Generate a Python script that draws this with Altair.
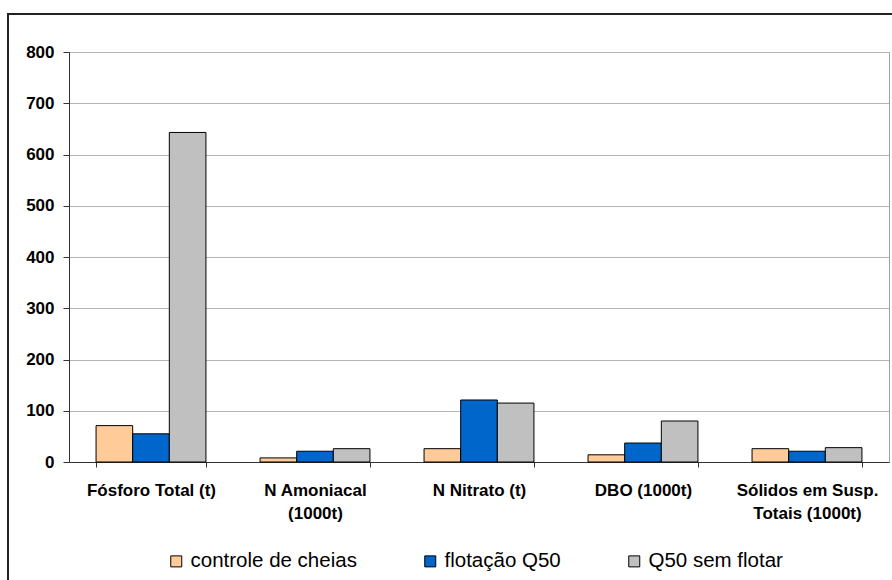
import altair as alt
import pandas as pd

# Categories (line breaks mark the wrapped axis labels)
categories = [
    "Fósforo Total (t)",
    "N Amoniacal\n(1000t)",
    "N Nitrato (t)",
    "DBO (1000t)",
    "Sólidos em Susp.\nTotais (1000t)",
]
series = ["controle de cheias", "flotação Q50", "Q50 sem flotar"]
colors = ["#FFCC99", "#0066CC", "#C0C0C0"]

controle_de_cheias = [71, 8, 26, 14, 26]
flotacao_q50 = [55, 21, 121, 37, 21]
q50_sem_flotar = [643, 26, 115, 80, 28]

y_ticks = [0, 100, 200, 300, 400, 500, 600, 700, 800]

rows = []
for name, values in zip(series, [controle_de_cheias, flotacao_q50, q50_sem_flotar]):
    for cat, v in zip(categories, values):
        rows.append({"categoria": cat, "serie": name, "valor": v})
df = pd.DataFrame(rows)

FONT = "Liberation Sans"

bars = alt.Chart(df).mark_bar(stroke="black", strokeWidth=1).encode(
    x=alt.X(
        "categoria:N",
        sort=categories,
        title=None,
        scale=alt.Scale(paddingInner=0.33, paddingOuter=0.165),
        axis=alt.Axis(
            labelAngle=0,
            labelExpr="split(datum.label, '\\n')",
            labelFont=FONT,
            labelFontSize=17,
            labelFontWeight="bold",
            labelColor="black",
            labelLineHeight=23,
            labelPadding=15,
            labelLimit=0,
            tickBand="extent",
            tickSize=5,
            tickColor="#333333",
            domainColor="#333333",
            grid=False,
        ),
    ),
    xOffset=alt.XOffset("serie:N", sort=series, scale=alt.Scale(paddingInner=0, paddingOuter=0)),
    y=alt.Y(
        "valor:Q",
        title=None,
        scale=alt.Scale(domain=[0, 800], nice=False),
        axis=alt.Axis(
            values=y_ticks,
            labelFont=FONT,
            labelFontSize=17,
            labelFontWeight="bold",
            labelColor="black",
            labelPadding=9,
            tickSize=6,
            tickColor="#333333",
            domainColor="#333333",
            gridColor="#b4b4b4",
            gridWidth=1,
        ),
    ),
    color=alt.Color(
        "serie:N",
        sort=series,
        scale=alt.Scale(domain=series, range=colors),
        legend=alt.Legend(
            title=None,
            orient="none",
            direction="horizontal",
            legendX=97,
            legendY=499,
            padding=0,
            symbolType="square",
            symbolSize=121,
            symbolStrokeColor="black",
            symbolStrokeWidth=1,
            symbolOpacity=1,
            labelFont=FONT,
            labelFontSize=20.5,
            labelColor="black",
            labelOffset=4,
            columnPadding=63,
            labelLimit=0,
        ),
    ),
)

# Outer chart-area frame
frame = alt.Chart(pd.DataFrame({"k": [0]})).mark_rect(
    fill=None, stroke="#222222", strokeWidth=2
).encode(
    x=alt.value(-61), x2=alt.value(845), y=alt.value(-38), y2=alt.value(545)
)

chart = (
    alt.layer(bars, frame)
    .properties(
        width=820,
        height=410,
        autosize=alt.AutoSizeParams(type="none"),
        padding={"left": 69, "top": 52, "right": 3, "bottom": 118},
        background="white",
    )
    .configure_view(stroke="#a0a0a0")
)

chart.save("out.html", embed_options={"renderer": "svg", "actions": False})
